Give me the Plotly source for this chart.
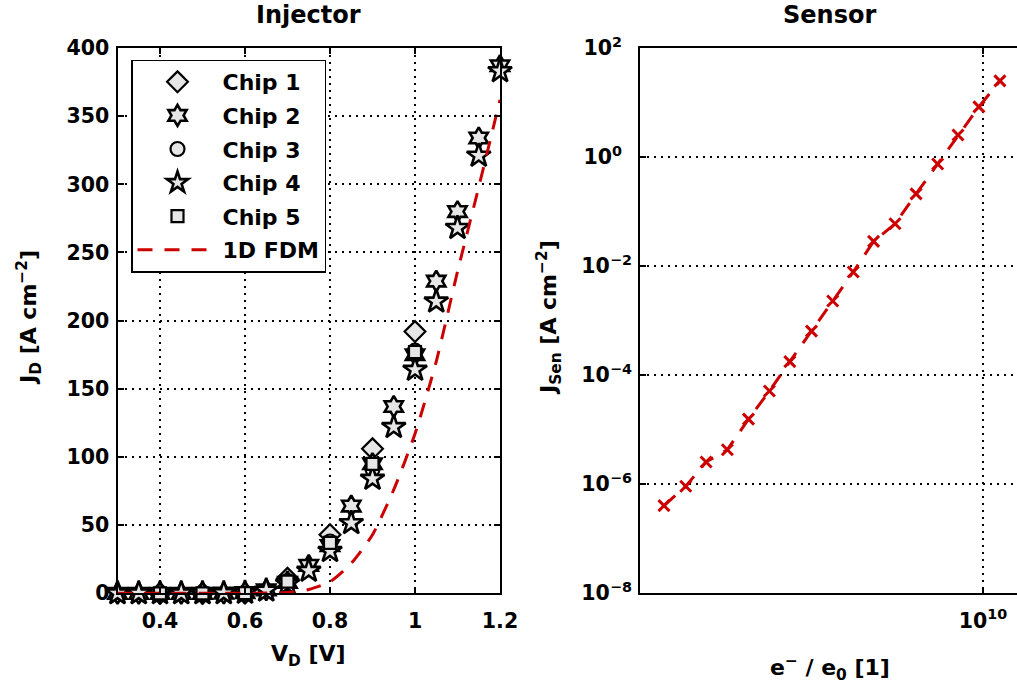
import plotly.graph_objects as go

# ---------------- data ----------------
v_chip_135 = [0.4, 0.5, 0.6, 0.7, 0.8, 0.9, 1.0]
j_chip1 = [0.0, 0.0, 0.1, 11.0, 43.0, 106.0, 192.0]
j_chip3 = [0.0, 0.0, 0.1, 9.0, 38.0, 91.0, 178.0]
j_chip5 = [0.0, 0.0, 0.1, 8.5, 37.0, 95.0, 177.0]

v_chip_24 = [0.3, 0.35, 0.4, 0.45, 0.5, 0.55, 0.6, 0.65, 0.7, 0.75,
             0.8, 0.85, 0.9, 0.95, 1.0, 1.05, 1.1, 1.15, 1.2]
j_chip2 = [0.0, 0.0, 0.0, 0.0, 0.0, 0.1, 0.5, 2.5, 8.0, 20.5,
           35.0, 64.0, 95.0, 137.0, 175.0, 229.0, 280.0, 334.0, 387.0]
j_chip4 = [0.0, 0.0, 0.0, 0.0, 0.0, 0.1, 0.4, 2.0, 7.0, 16.5,
           31.0, 51.5, 84.0, 122.0, 164.0, 214.0, 268.0, 321.0, 383.0]

v_fdm = [0.3, 0.35, 0.4, 0.45, 0.5, 0.55, 0.6, 0.65, 0.7, 0.75,
         0.8, 0.85, 0.9, 0.95, 1.0, 1.05, 1.1, 1.15, 1.2]
j_fdm = [0.0, 0.0, 0.0, 0.0, 0.0, 0.01, 0.05, 0.2, 0.6, 2.8,
         8.5, 22.0, 43.0, 76.0, 117.0, 170.0, 236.0, 298.0, 362.0]

sensor_x = [1.00e9, 1.17e9, 1.355e9, 1.58e9, 1.84e9, 2.14e9, 2.48e9, 2.90e9, 3.38e9,
            3.92e9, 4.54e9, 5.30e9, 6.17e9, 7.21e9, 8.35e9, 9.71e9, 1.13e10]
sensor_j = [4.06e-7, 9.2e-7, 2.56e-6, 4.3e-6, 1.56e-5, 5.14e-5, 1.77e-4, 6.43e-4, 2.29e-3,
            7.80e-3, 2.84e-2, 5.98e-2, 0.211, 0.748, 2.54, 8.34, 24.9]

left_xticks = [0.4, 0.6, 0.8, 1.0, 1.2]
left_xticktext = ["0.4", "0.6", "0.8", "1", "1.2"]
left_yticks = [0, 50, 100, 150, 200, 250, 300, 350, 400]
right_yticks = [1e-8, 1e-6, 1e-4, 1e-2, 1e0, 1e2]
right_yticktext = ["10<sup>−8</sup>", "10<sup>−6</sup>", "10<sup>−4</sup>",
                   "10<sup>−2</sup>", "10<sup>0\u2007</sup>", "10<sup>2\u2007</sup>"]
right_xticks = [1e10]
right_xticktext = ["10<sup>10</sup>"]

# ---------------- style ----------------
W, H = 1017, 693
FONT = "DejaVu Sans"
RED = "#cc0000"
GRAY = "#e6e6e6"


def px_x(p):
    return p / W


def px_y(p):
    return 1 - p / H


fig = go.Figure()

chips = [
    ("Chip 1", v_chip_135, j_chip1, "diamond", 16, 2.2),
    ("Chip 2", v_chip_24, j_chip2, "hexagram", 16, 2.6),
    ("Chip 3", v_chip_135, j_chip3, "circle", 14, 2.2),
    ("Chip 4", v_chip_24, j_chip4, "star", 18, 2.6),
    ("Chip 5", v_chip_135, j_chip5, "square", 12, 2.2),
]
for i, (name, vx, jy, sym, sz, lw) in enumerate(chips):
    fig.add_trace(go.Scatter(
        x=vx, y=jy, mode="markers", name=name, legendgroup=f"g{i}",
        marker=dict(symbol=sym, size=sz, color=GRAY, line=dict(color="black", width=lw)),
        cliponaxis=False, xaxis="x", yaxis="y"))

fig.add_trace(go.Scatter(
    x=v_fdm, y=j_fdm, mode="lines", name="1D FDM", legendgroup="g5",
    line=dict(color=RED, width=3, dash="15px,12px", shape="spline", smoothing=0.6),
    xaxis="x", yaxis="y"))

fig.add_trace(go.Scatter(
    x=sensor_x, y=sensor_j, mode="lines+markers", showlegend=False,
    line=dict(color=RED, width=3, dash="15px,12px"),
    marker=dict(symbol="x-thin", size=11, color=RED, line=dict(color=RED, width=3)),
    cliponaxis=False, xaxis="x2", yaxis="y2"))

tickfont = dict(family=FONT, size=20.5, color="black", weight="bold")
grid = dict(showgrid=True, gridcolor="black", gridwidth=1.5, griddash="2px,5px")
common = dict(showline=True, linecolor="black", linewidth=2, ticks="inside",
              ticklen=6, tickwidth=2, tickcolor="black", tickfont=tickfont,
              zeroline=False, automargin=False, **grid)

ydom = [px_y(593.3), px_y(48)]

fig.update_layout(
    template="none",
    width=W, height=H, margin=dict(l=0, r=0, t=0, b=0, autoexpand=False),
    paper_bgcolor="white", plot_bgcolor="white",
    xaxis=dict(domain=[px_x(117.5), px_x(500)], range=[0.3, 1.2],
               tickvals=left_xticks, ticktext=left_xticktext, mirror="ticks",
               anchor="y", ticklabelstandoff=8, **common),
    yaxis=dict(domain=ydom, range=[0, 400], tickvals=left_yticks, mirror="ticks",
               anchor="x", ticklabelstandoff=2, **common),
    xaxis2=dict(domain=[px_x(640), 1.0], type="log", range=[8.9248, 10.1066],
                tickvals=right_xticks, ticktext=right_xticktext, mirror="ticks",
                anchor="y2", ticklabelstandoff=8, **common),
    yaxis2=dict(domain=ydom, type="log", range=[-8, 2], tickvals=right_yticks,
                ticktext=right_yticktext, mirror=False, anchor="x2",
                ticklabelstandoff=2, **common),
    legend=dict(x=px_x(131), y=px_y(59.5), xanchor="left", yanchor="top",
                bordercolor="black", borderwidth=1.5, bgcolor="white",
                font=dict(family=FONT, size=22, color="black", weight="bold"),
                itemwidth=80, tracegroupgap=2),
    showlegend=True,
)

afont = dict(family=FONT, size=22, color="black", weight="bold")
tfont = dict(family=FONT, size=24, color="black", weight="bold")
annots = [
    ("Injector", 308.75, 15, 0, tfont),
    ("Sensor", 829, 15, 0, tfont),
    ("V<sub>D</sub> [V]", 308, 655, 0, afont),
    ("e<sup>−</sup> / e<sub>0</sub> [1]", 830, 668, 0, afont),
    ("J<sub>D</sub> [A cm<sup>−2</sup>]", 29, 318, -90, afont),
    ("J<sub>Sen</sub> [A cm<sup>−2</sup>]", 549, 318, -90, afont),
]
for text, ax, ay, ang, f in annots:
    fig.add_annotation(text=text, x=px_x(ax), y=px_y(ay), xref="paper", yref="paper",
                       xanchor="center", yanchor="middle", showarrow=False,
                       textangle=ang, font=f)

fig.write_html("out.html")
